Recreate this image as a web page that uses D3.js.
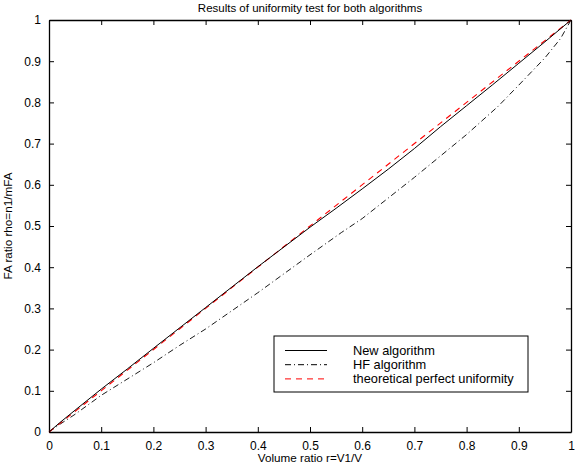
<!DOCTYPE html>
<html>
<head>
<meta charset="utf-8">
<style>
  html, body { margin: 0; padding: 0; background: #fff; }
  svg { font-family: "Liberation Sans", Arial, sans-serif; }
  .tick text { font-size: 12px; }
</style>
</head>
<body>
<div id="vis"></div>
<script src="https://cdnjs.cloudflare.com/ajax/libs/d3/7.8.5/d3.min.js"></script>
<script>
// values
var xTicks = [0, 0.1, 0.2, 0.3, 0.4, 0.5, 0.6, 0.7, 0.8, 0.9, 1];
var yTicks = [0, 0.1, 0.2, 0.3, 0.4, 0.5, 0.6, 0.7, 0.8, 0.9, 1];

var newX = [0, 0.02, 0.05, 0.1, 0.15, 0.2, 0.3, 0.4, 0.5, 0.55, 0.6, 0.65, 0.7, 0.75, 0.8, 0.85, 0.9, 0.95, 1];
var newY = [0, 0.022, 0.053, 0.104, 0.153, 0.203, 0.302, 0.401, 0.497, 0.543, 0.59, 0.638, 0.688, 0.741, 0.792, 0.843, 0.895, 0.947, 1];

var hfX = [0, 0.02, 0.05, 0.1, 0.2, 0.25, 0.3, 0.4, 0.5, 0.56, 0.6, 0.7, 0.8, 0.86, 0.9, 0.95, 0.98, 1];
var hfY = [0, 0.018, 0.043, 0.089, 0.168, 0.21, 0.25, 0.338, 0.43, 0.484, 0.518, 0.618, 0.722, 0.79, 0.842, 0.908, 0.955, 1];

var theoX = [0, 1];
var theoY = [0, 1];

var legendLabels = ["New algorithm", "HF algorithm", "theoretical perfect uniformity"];

var W = 581, H = 468;
var pL = 49, pR = 571, pT = 20, pB = 432;

var svg = d3.select("#vis").append("svg")
    .attr("width", W).attr("height", H);

var x = d3.scaleLinear().domain([0, 1]).range([pL, pR]);
var y = d3.scaleLinear().domain([0, 1]).range([pB, pT]);

// axes (ticks pointing inwards, box all round)
var xAxis = svg.append("g").attr("transform", "translate(0," + pB + ")")
    .call(d3.axisBottom(x).tickValues(xTicks).tickSizeInner(-5).tickSizeOuter(0).tickPadding(9)
        .tickFormat(function(d){ return d3.format("")(d); }));
var yAxis = svg.append("g").attr("transform", "translate(" + pL + ",0)")
    .call(d3.axisLeft(y).tickValues(yTicks).tickSizeInner(-5).tickSizeOuter(0).tickPadding(8)
        .tickFormat(function(d){ return d3.format("")(d); }));
svg.append("g").attr("transform", "translate(0," + pT + ")")
    .call(d3.axisTop(x).tickValues(xTicks).tickSizeInner(-5).tickSizeOuter(0).tickFormat(""));
svg.append("g").attr("transform", "translate(" + pR + ",0)")
    .call(d3.axisRight(y).tickValues(yTicks).tickSizeInner(-5).tickSizeOuter(0).tickFormat(""));

svg.selectAll(".domain").attr("stroke", "#000").attr("stroke-width", 1.3);
svg.selectAll(".tick line").attr("stroke", "#000");
svg.selectAll(".tick text").attr("fill", "#000");

var line = d3.line().x(function(d){ return x(d[0]); }).y(function(d){ return y(d[1]); });

var plot = svg.append("g");
plot.append("path").datum(d3.zip(hfX, hfY))
    .attr("d", line).attr("fill", "none").attr("stroke", "#000")
    .attr("stroke-width", 0.9).attr("stroke-dasharray", "6,3,1,3");
plot.append("path").datum(d3.zip(theoX, theoY))
    .attr("d", line).attr("fill", "none").attr("stroke", "#ff0000")
    .attr("stroke-width", 1.1).attr("stroke-dasharray", "6,5");
plot.append("path").datum(d3.zip(newX, newY))
    .attr("d", line).attr("fill", "none").attr("stroke", "#000")
    .attr("stroke-width", 1);

// title and axis labels
svg.append("text").attr("x", (pL + pR) / 2).attr("y", 12)
    .attr("text-anchor", "middle").attr("font-size", 11.5).text("Results of uniformity test for both algorithms");
svg.append("text").attr("x", (pL + pR) / 2).attr("y", 462)
    .attr("text-anchor", "middle").attr("font-size", 11.7).text("Volume ratio r=V1/V");
svg.append("text").attr("transform", "translate(12," + ((pT + pB) / 2) + ") rotate(-90)")
    .attr("text-anchor", "middle").attr("font-size", 11.7).text("FA ratio rho=n1/mFA");

// legend
var lg = svg.append("g").attr("transform", "translate(274,336)");
lg.append("rect").attr("width", 254).attr("height", 56)
    .attr("fill", "#fff").attr("stroke", "#000").attr("stroke-width", 1);
var styles = [
    {stroke: "#000", dash: null},
    {stroke: "#000", dash: "6,3,1,3"},
    {stroke: "#ff0000", dash: "6,5"}
];
legendLabels.forEach(function(lab, i){
    var yy = 14.5 + i * 14.2;
    lg.append("line").attr("x1", 11).attr("x2", 53).attr("y1", yy).attr("y2", yy)
        .attr("stroke", styles[i].stroke).attr("stroke-width", 1)
        .attr("stroke-dasharray", styles[i].dash);
    lg.append("text").attr("x", 79).attr("y", yy + 4.5).attr("font-size", 12.8).text(lab);
});
</script>
</body>
</html>
